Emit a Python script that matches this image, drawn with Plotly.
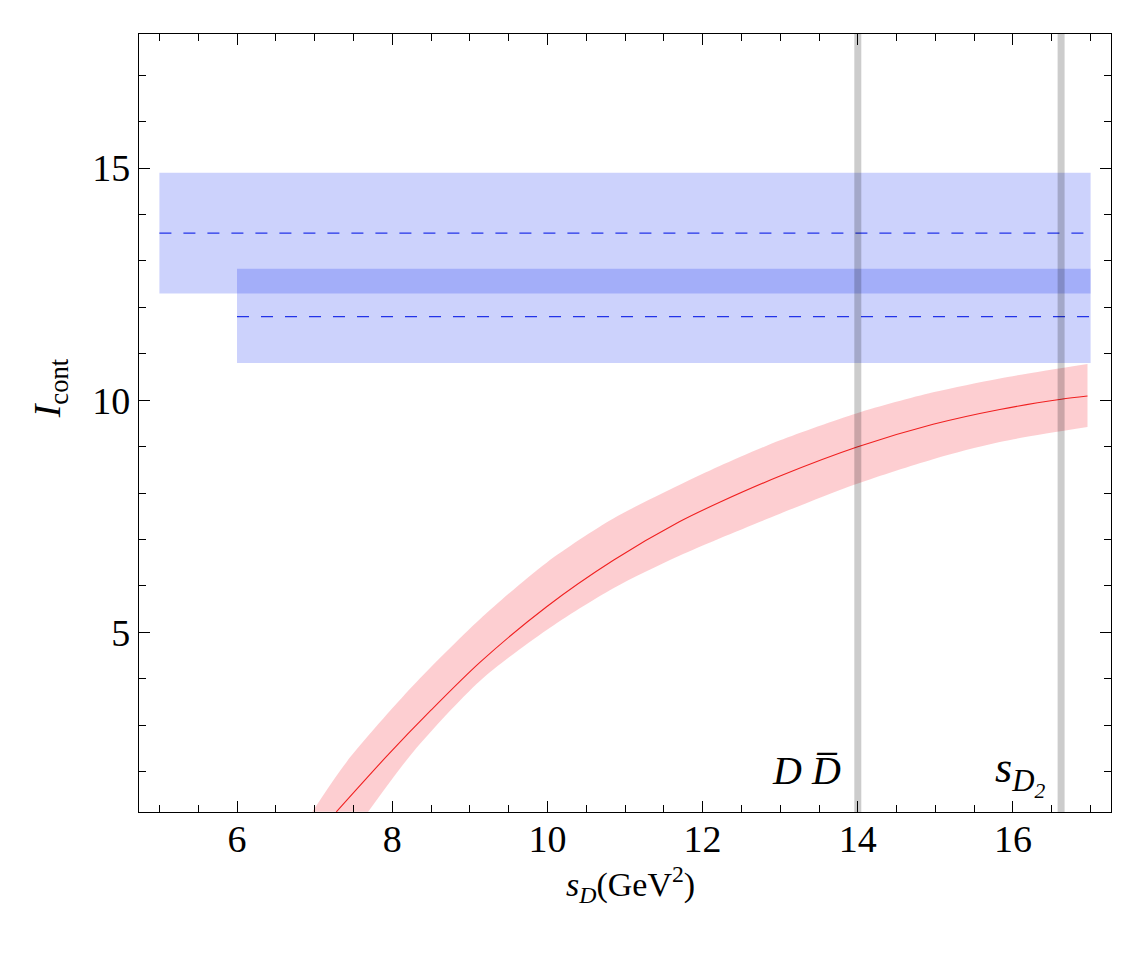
import plotly.graph_objects as go

# ---- data ----
# red band (continuum contribution) : central curve, upper and lower edges
center_x = [7.28, 7.93, 8.50, 9.13, 9.99, 10.85, 11.70, 12.22, 12.99, 13.99, 14.97, 15.83, 16.62, 16.96]
center_y = [1.13, 2.33, 3.32, 4.35, 5.55, 6.55, 7.38, 7.80, 8.36, 8.99, 9.48, 9.80, 10.02, 10.09]

upper_x = [6.97, 7.41, 8.27, 9.13, 9.99, 10.85, 11.70, 12.22, 12.99, 13.99, 14.97, 15.83, 16.96]
upper_y = [1.13, 2.20, 3.85, 5.28, 6.50, 7.45, 8.17, 8.58, 9.13, 9.72, 10.17, 10.47, 10.78]

lower_x = [7.69, 8.27, 9.13, 9.99, 10.85, 11.70, 12.99, 13.99, 14.97, 15.83, 16.96]
lower_y = [1.13, 2.42, 3.95, 5.05, 5.95, 6.65, 7.55, 8.20, 8.73, 9.10, 9.42]

# blue bands: [x start, x end], [y low, y high], central (dashed) value
band1_x = [5.0, 17.0]
band1_y = [12.30, 14.90]
band1_c = 13.60
band2_x = [6.0, 17.0]
band2_y = [10.80, 12.83]
band2_c = 11.80

# vertical threshold lines
vlines_x = [14.0, 16.62]

x_range = [4.737, 17.263]
y_range = [1.127, 17.89]

FONT = "Liberation Serif"
BAND_BLUE = "rgba(0,30,240,0.2)"
DASH_BLUE = "#2233e8"

fig = go.Figure()

# blue bands
for bx, by, bc in [(band1_x, band1_y, band1_c), (band2_x, band2_y, band2_c)]:
    fig.add_trace(go.Scatter(
        x=[bx[0], bx[1], bx[1], bx[0], bx[0]],
        y=[by[0], by[0], by[1], by[1], by[0]],
        mode="lines", fill="toself", fillcolor=BAND_BLUE,
        line=dict(width=0), hoverinfo="skip", showlegend=False))
    fig.add_trace(go.Scatter(
        x=bx, y=[bc, bc], mode="lines",
        line=dict(color=DASH_BLUE, width=1.2, dash="12px,12px"),
        hoverinfo="skip", showlegend=False))

# red band
fig.add_trace(go.Scatter(x=lower_x, y=lower_y, mode="lines",
                         line=dict(width=0, shape="spline", smoothing=0.8),
                         hoverinfo="skip", showlegend=False))
fig.add_trace(go.Scatter(x=upper_x, y=upper_y, mode="lines",
                         line=dict(width=0, shape="spline", smoothing=0.8),
                         fill="tonexty", fillcolor="rgba(245,30,45,0.22)",
                         hoverinfo="skip", showlegend=False))
fig.add_trace(go.Scatter(x=center_x, y=center_y, mode="lines",
                         line=dict(color="#f02020", width=1.1, shape="spline", smoothing=0.8),
                         hoverinfo="skip", showlegend=False))

# vertical gray lines
for vx in vlines_x:
    fig.add_shape(type="line", xref="x", yref="paper", x0=vx, x1=vx, y0=0, y1=1,
                  line=dict(color="rgba(0,0,0,0.2)", width=7), layer="above")

axis_common = dict(
    showline=True, linecolor="black", linewidth=1.3, mirror="ticks",
    ticks="inside", ticklen=11, tickwidth=1.2, tickcolor="black",
    showgrid=False, zeroline=False,
    tickfont=dict(family=FONT, size=38, color="black"),
)

fig.update_xaxes(range=x_range, tick0=0, dtick=2,
                 minor=dict(dtick=0.5, ticks="inside", ticklen=7, tickwidth=1.2,
                            tickcolor="black", showgrid=False),
                 ticklabelstandoff=-7, **axis_common)
fig.update_yaxes(range=y_range, tick0=0, dtick=5,
                 minor=dict(dtick=1, ticks="inside", ticklen=7, tickwidth=1.2,
                            tickcolor="black", showgrid=False),
                 ticklabelstandoff=0, **axis_common)

annotations = [
    dict(text="<i>s<sub>D</sub></i>(GeV<sup>2</sup>)", xref="paper", yref="paper",
         x=0.506, y=-0.126, showarrow=False, font=dict(family=FONT, size=34, color="black")),
    dict(text="<i>I</i><sub>cont</sub>", xref="paper", yref="paper",
         x=-0.118, y=0.545, textangle=-90, showarrow=False,
         font=dict(family=FONT, size=38, color="black")),
    dict(text="<i>D</i> <i>D\u0305</i>", xref="x", yref="y", x=13.34, y=2.03,
         showarrow=False, font=dict(family=FONT, size=40, color="black")),
    dict(text="<i>s<sub>D<sub>2</sub></sub></i>", xref="x", yref="y", x=16.09, y=1.97,
         showarrow=False, font=dict(family=FONT, size=44, color="black")),
]

fig.update_layout(
    width=1144, height=954,
    margin=dict(l=139, r=33, t=34, b=142),
    paper_bgcolor="white", plot_bgcolor="white",
    annotations=annotations,
    showlegend=False,
)

fig.write_html("out.html")
